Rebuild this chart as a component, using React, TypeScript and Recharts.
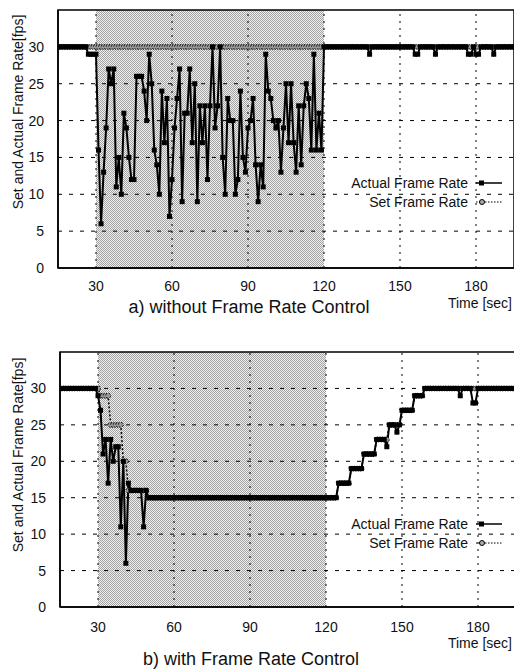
import { Line, LineChart, ReferenceArea, ReferenceLine, XAxis, YAxis } from "recharts";

// time axis, one sample per second
const seconds = [
  15, 16, 17, 18, 19, 20, 21, 22, 23, 24,
  25, 26, 27, 28, 29, 30, 31, 32, 33, 34,
  35, 36, 37, 38, 39, 40, 41, 42, 43, 44,
  45, 46, 47, 48, 49, 50, 51, 52, 53, 54,
  55, 56, 57, 58, 59, 60, 61, 62, 63, 64,
  65, 66, 67, 68, 69, 70, 71, 72, 73, 74,
  75, 76, 77, 78, 79, 80, 81, 82, 83, 84,
  85, 86, 87, 88, 89, 90, 91, 92, 93, 94,
  95, 96, 97, 98, 99, 100, 101, 102, 103, 104,
  105, 106, 107, 108, 109, 110, 111, 112, 113, 114,
  115, 116, 117, 118, 119, 120, 121, 122, 123, 124,
  125, 126, 127, 128, 129, 130, 131, 132, 133, 134,
  135, 136, 137, 138, 139, 140, 141, 142, 143, 144,
  145, 146, 147, 148, 149, 150, 151, 152, 153, 154,
  155, 156, 157, 158, 159, 160, 161, 162, 163, 164,
  165, 166, 167, 168, 169, 170, 171, 172, 173, 174,
  175, 176, 177, 178, 179, 180, 181, 182, 183, 184,
  185, 186, 187, 188, 189, 190, 191, 192, 193, 194,
  195,
];

// a) without frame rate control
const actualA = [
  30, 30, 30, 30, 30, 30, 30, 30, 30, 30,
  30, 30, 29, 29, 29, 29, 16, 6, 13, 19,
  27, 25, 27, 11, 15, 10, 21, 19, 15, 12,
  12, 26, 26, 26, 24, 20, 29, 25, 16, 14,
  10, 24, 17, 23, 7, 12, 19, 23, 27, 9,
  21, 21, 27, 17, 25, 9, 22, 17, 22, 12,
  22, 30, 19, 22, 30, 15, 10, 23, 20, 20,
  10, 12, 24, 15, 13, 19, 20, 23, 14, 9,
  14, 11, 29, 24, 23, 20, 19, 20, 13, 19,
  25, 17, 25, 17, 13, 22, 14, 22, 25, 23,
  16, 29, 16, 21, 16, 30, 30, 30, 30, 30,
  30, 30, 30, 30, 30, 30, 30, 30, 30, 30,
  30, 30, 30, 29, 30, 30, 30, 30, 30, 30,
  30, 30, 30, 30, 30, 30, 30, 30, 30, 30,
  30, 29, 29, 30, 30, 30, 30, 30, 30, 29,
  30, 30, 30, 30, 30, 30, 30, 30, 30, 30,
  30, 30, 29, 29, 30, 29, 29, 30, 30, 30,
  30, 30, 29, 30, 30, 30, 30, 30, 30, 30,
  30,
];
const setA = [
  30, 30, 30, 30, 30, 30, 30, 30, 30, 30,
  30, 30, 30, 30, 30, 30, 30, 30, 30, 30,
  30, 30, 30, 30, 30, 30, 30, 30, 30, 30,
  30, 30, 30, 30, 30, 30, 30, 30, 30, 30,
  30, 30, 30, 30, 30, 30, 30, 30, 30, 30,
  30, 30, 30, 30, 30, 30, 30, 30, 30, 30,
  30, 30, 30, 30, 30, 30, 30, 30, 30, 30,
  30, 30, 30, 30, 30, 30, 30, 30, 30, 30,
  30, 30, 30, 30, 30, 30, 30, 30, 30, 30,
  30, 30, 30, 30, 30, 30, 30, 30, 30, 30,
  30, 30, 30, 30, 30, 30, 30, 30, 30, 30,
  30, 30, 30, 30, 30, 30, 30, 30, 30, 30,
  30, 30, 30, 30, 30, 30, 30, 30, 30, 30,
  30, 30, 30, 30, 30, 30, 30, 30, 30, 30,
  30, 30, 30, 30, 30, 30, 30, 30, 30, 30,
  30, 30, 30, 30, 30, 30, 30, 30, 30, 30,
  30, 30, 30, 30, 30, 30, 30, 30, 30, 30,
  30, 30, 30, 30, 30, 30, 30, 30, 30, 30,
  30,
];

// b) with frame rate control
const actualB = [
  30, 30, 30, 30, 30, 30, 30, 30, 30, 30,
  30, 30, 30, 30, 30, 29, 27, 21, 23, 17,
  23, 20, 22, 22, 11, 20, 6, 17, 16, 16,
  16, 16, 16, 11, 16, 15, 15, 15, 15, 15,
  15, 15, 15, 15, 15, 15, 15, 15, 15, 15,
  15, 15, 15, 15, 15, 15, 15, 15, 15, 15,
  15, 15, 15, 15, 15, 15, 15, 15, 15, 15,
  15, 15, 15, 15, 15, 15, 15, 15, 15, 15,
  15, 15, 15, 15, 15, 15, 15, 15, 15, 15,
  15, 15, 15, 15, 15, 15, 15, 15, 15, 15,
  15, 15, 15, 15, 15, 15, 15, 15, 15, 15,
  17, 17, 17, 17, 17, 19, 19, 19, 19, 19,
  21, 21, 21, 21, 21, 23, 23, 23, 23, 22,
  25, 25, 25, 24, 25, 27, 27, 27, 27, 27,
  29, 29, 29, 29, 30, 30, 30, 30, 30, 30,
  30, 30, 30, 30, 30, 30, 30, 30, 29, 30,
  30, 30, 30, 28, 28, 30, 30, 30, 30, 30,
  30, 30, 30, 30, 30, 30, 30, 30, 30, 30,
  30,
];
const setB = [
  30, 30, 30, 30, 30, 30, 30, 30, 30, 30,
  30, 30, 30, 30, 30, 30, 29, 29, 29, 29,
  25, 25, 25, 25, 25, 20, 20, 16, 16, 16,
  16, 16, 16, 16, 16, 15, 15, 15, 15, 15,
  15, 15, 15, 15, 15, 15, 15, 15, 15, 15,
  15, 15, 15, 15, 15, 15, 15, 15, 15, 15,
  15, 15, 15, 15, 15, 15, 15, 15, 15, 15,
  15, 15, 15, 15, 15, 15, 15, 15, 15, 15,
  15, 15, 15, 15, 15, 15, 15, 15, 15, 15,
  15, 15, 15, 15, 15, 15, 15, 15, 15, 15,
  15, 15, 15, 15, 15, 15, 15, 15, 15, 15,
  17, 17, 17, 17, 17, 19, 19, 19, 19, 19,
  21, 21, 21, 21, 21, 23, 23, 23, 23, 23,
  25, 25, 25, 25, 25, 27, 27, 27, 27, 27,
  29, 29, 29, 29, 30, 30, 30, 30, 30, 30,
  30, 30, 30, 30, 30, 30, 30, 30, 30, 30,
  30, 30, 30, 30, 30, 30, 30, 30, 30, 30,
  30, 30, 30, 30, 30, 30, 30, 30, 30, 30,
  30,
];

const xTicks = [30, 60, 90, 120, 150, 180];
const yTicks = [0, 5, 10, 15, 20, 25, 30];
const yGrid = [5, 10, 15, 20, 25, 30];
const loadStart = 30;
const loadEnd = 120;

const FONT = "'Liberation Sans', Arial, sans-serif";

const dataA = seconds.map((t, i) => ({ t, actual: actualA[i], set: setA[i] }));
const dataB = seconds.map((t, i) => ({ t, actual: actualB[i], set: setB[i] }));

const SquareDot = (props: any) => {
  const { cx, cy, index } = props;
  if (cx == null || cy == null) return <g key={index} />;
  return <rect key={index} x={cx - 2.5} y={cy - 2.5} width={5} height={5} fill="#000" />;
};

function LegendBox({ top }: { top: number }) {
  const row = { display: "flex", alignItems: "center", justifyContent: "flex-end", height: 19 } as const;
  return (
    <div style={{ position: "absolute", top, right: 12, fontFamily: FONT, fontSize: 14, color: "#111" }}>
      <div style={row}>
        <span>Actual Frame Rate</span>
        <svg width={26} height={10} style={{ marginLeft: 8 }}>
          <line x1={0} y1={5} x2={26} y2={5} stroke="#000" strokeWidth={1.5} />
          <rect x={3} y={2.5} width={5} height={5} fill="#000" />
        </svg>
      </div>
      <div style={row}>
        <span>Set Frame Rate</span>
        <svg width={26} height={10} style={{ marginLeft: 8 }}>
          <line x1={0} y1={5} x2={26} y2={5} stroke="#000" strokeWidth={1} strokeDasharray="1.5 1.5" />
          <circle cx={6} cy={5} r={2.5} fill="#aaa" stroke="#000" strokeWidth={1} />
        </svg>
      </div>
    </div>
  );
}

function Panel({
  data, top, width, yAxisWidth, bottom, patternId, tickGap,
}: {
  data: { t: number; actual: number; set: number }[];
  top: number; width: number; yAxisWidth: number; bottom: number; patternId: string; tickGap: number;
}) {
  return (
    <div style={{ position: "absolute", top, left: 0 }}>
      <LineChart
        width={width}
        height={300}
        data={data}
        margin={{ top: 10, right: 0, bottom, left: 0 }}
        style={{ fontFamily: FONT }}
      >
        <defs>
          <pattern id={patternId} width={2} height={2} patternUnits="userSpaceOnUse">
            <rect width={2} height={2} fill="#efefef" />
            <rect x={0} y={0} width={1} height={1} fill="#a2a2a2" />
            <rect x={1} y={1} width={1} height={1} fill="#a2a2a2" />
          </pattern>
        </defs>
        <ReferenceArea x1={loadStart} x2={loadEnd} y1={0} y2={35} fill={`url(#${patternId})`} fillOpacity={1} stroke="none" ifOverflow="hidden" />
        {yGrid.map((v) => (
          <ReferenceLine key={`h${v}`} y={v} stroke="#000" strokeWidth={1} strokeDasharray="4 7" />
        ))}
        {xTicks.map((v) => (
          <ReferenceLine key={`v${v}`} x={v} stroke="#000" strokeWidth={1} strokeDasharray="2 5" />
        ))}
        <XAxis
          dataKey="t"
          type="number"
          domain={[15, 195]}
          ticks={xTicks}
          allowDataOverflow
          height={30}
          tickLine={false}
          tickMargin={tickGap}
          axisLine={{ stroke: "#000", strokeWidth: 1.5 }}
          tick={{ fontSize: 14, fill: "#111" }}
        />
        <YAxis
          type="number"
          domain={[0, 35]}
          ticks={yTicks}
          allowDataOverflow
          width={yAxisWidth}
          tickLine={false}
          tickMargin={8}
          axisLine={{ stroke: "#000", strokeWidth: 1.5 }}
          tick={{ fontSize: 14, fill: "#111" }}
        />
        <Line
          dataKey="set"
          type="linear"
          stroke="#000"
          strokeWidth={1.5}
          strokeDasharray="2 2"
          dot={{ r: 2.5, fill: "#999", stroke: "#000", strokeWidth: 1 }}
          isAnimationActive={false}
        />
        <Line
          dataKey="actual"
          type="linear"
          stroke="#000"
          strokeWidth={2}
          dot={SquareDot}
          isAnimationActive={false}
        />
        <ReferenceArea x1={15} x2={195} y1={0} y2={35} fill="none" stroke="#000" strokeWidth={1.5} />
      </LineChart>
    </div>
  );
}

const yLabel = "Set and Actual Frame Rate[fps]";

function Caption({ text, x, y, size }: { text: string; x: number; y: number; size: number }) {
  return (
    <div
      style={{
        position: "absolute", left: x, top: y, transform: "translate(-50%, -50%)",
        fontFamily: FONT, fontSize: size, whiteSpace: "nowrap", lineHeight: 1, color: "#111",
      }}
    >
      {text}
    </div>
  );
}

function RotatedLabel({ x, y }: { x: number; y: number }) {
  return (
    <div
      style={{
        position: "absolute", left: x, top: y, transform: "translate(-50%, -50%) rotate(-90deg)",
        fontFamily: FONT, fontSize: 14, whiteSpace: "nowrap", lineHeight: 1, color: "#111",
      }}
    >
      {yLabel}
    </div>
  );
}

function TimeLabel({ top }: { top: number }) {
  return (
    <div style={{ position: "absolute", right: 2, top, fontFamily: FONT, fontSize: 14, lineHeight: 1, color: "#111" }}>
      Time [sec]
    </div>
  );
}

export default function App() {
  return (
    <div style={{ position: "absolute", left: 0, top: 0, width: 514, height: 669, overflow: "hidden", background: "#fff" }}>
      <Panel data={dataA} top={0} width={514} yAxisWidth={58} bottom={2} patternId="dotsA" tickGap={7} />
      <Panel data={dataB} top={342} width={516} yAxisWidth={60} bottom={5} patternId="dotsB" tickGap={9} />
      <RotatedLabel x={18} y={112} />
      <RotatedLabel x={18} y={455} />
      <LegendBox top={173} />
      <LegendBox top={514} />
      <TimeLabel top={296} />
      <TimeLabel top={636} />
      <Caption text="a) without Frame Rate Control" x={249} y={307} size={18} />
      <Caption text="b) with Frame Rate Control" x={251} y={659} size={18} />
    </div>
  );
}
